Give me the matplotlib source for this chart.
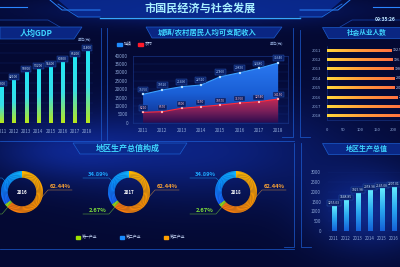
import numpy as np
import matplotlib
matplotlib.use('Agg')
import matplotlib.pyplot as plt
from matplotlib.patches import Polygon, Rectangle, Wedge
from matplotlib.colors import LinearSegmentedColormap

plt.rcParams['font.family'] = ['Noto Sans CJK SC', 'DejaVu Sans']

# ---------------- data ----------------
main_title = "市国民经济与社会发展"
clock_text = "09:35:26"

years = ['2011', '2012', '2013', '2014', '2015', '2016', '2017', '2018']
gdp_per_capita = [35600, 42100, 50300, 53200, 55400, 60300, 65200, 71400]

urban_income = [16950, 19520, 21490, 22510, 27460, 29850, 32480, 35640]
rural_income = [6210, 6570, 8600, 9550, 10570, 11760, 12540, 14150]
income_ticks = [0, 5000, 10000, 15000, 20000, 25000, 30000, 35000, 40000]

employment = [192.5, 196.1, 198.4, 201.2, 201.6, 211.3, 224.8, 228.5]
employment_ticks = [0, 50, 100, 150, 200]

region_years = ['2011', '2012', '2013', '2014', '2015', '2016']
region_gdp = [1255.03, 1548.85, 1925.98, 2058.98, 2145.08, 2207.01]
region_ticks = [0, 500, 1000, 1500, 2000, 2500, 3000]

donut_years = ['2016', '2017', '2018']
industry_names = ['第三产业', '第一产业', '第二产业']   # clockwise from top
industry_share = [62.44, 2.67, 34.89]
legend_names = ['第一产业', '第二产业', '第三产业']

# ---------------- figure ----------------
W, H = 400, 267
fig = plt.figure(figsize=(4, 2.67), dpi=100)

def add_ax(x0, y0, x1, y1):
    a = fig.add_axes([x0 / W, 1 - y1 / H, (x1 - x0) / W, (y1 - y0) / H])
    a.set_facecolor('none')
    return a

# background
bg = fig.add_axes([0, 0, 1, 1])
bg.set_xlim(0, W); bg.set_ylim(H, 0); bg.axis('off')
yy, xx = np.mgrid[0:H, 0:W]
img = np.ones((H, W, 3)) * (np.array([4, 9, 50]) / 255)
def blob(cx, cy, sx, sy, col, amp):
    g = np.exp(-(((xx - cx) / sx) ** 2 + ((yy - cy) / sy) ** 2))
    return g[..., None] * np.array(col) / 255 * amp
img += blob(200, 150, 140, 50, [15, 45, 140], 0.55)
img += blob(370, 210, 60, 40, [20, 60, 170], 0.5)
img += blob(60, 150, 80, 30, [15, 45, 140], 0.45)
img += blob(200, 10, 150, 15, [10, 40, 130], 0.5)
img = np.clip(img, 0, 1)
bg.imshow(img, extent=[0, W, H, 0], aspect='auto', zorder=0)

LINE = '#1d5fd8'
# header decoration
bg.add_patch(Polygon([(58, 0), (342, 0), (322, 17), (78, 17)], closed=True,
                     facecolor='#0a2c95', edgecolor='none', alpha=0.85, zorder=1))
bg.plot([100, 300], [17.5, 17.5], color='#36a6ff', lw=1.0, zorder=2)
bg.plot([50, 62, 100], [0, 10, 10], color='#2a86ff', lw=0.7, zorder=2)
bg.plot([350, 338, 300], [0, 10, 10], color='#2a86ff', lw=0.7, zorder=2)
bg.plot([58, 78, 100], [4, 17, 17], color='#1e6fe8', lw=0.6, zorder=2)
bg.plot([342, 322, 300], [4, 17, 17], color='#1e6fe8', lw=0.6, zorder=2)
bg.plot([0, 27], [7, 7], color='#2a86ff', lw=0.8, zorder=2)
bg.plot([373, 400], [7, 7], color='#2a86ff', lw=0.8, zorder=2)
bg.plot([0, 48, 60], [20, 20, 27], color='#1848b0', lw=0.5, zorder=2)
bg.plot([400, 352, 340], [20, 20, 27], color='#1848b0', lw=0.5, zorder=2)
bg.text(200, 8, main_title, color='#a8f0ff', fontsize=8, fontweight='bold',
        ha='center', va='center', zorder=3)
bg.text(385, 19.5, clock_text, color='#bfe6ff', fontsize=3.6, fontweight='bold',
        ha='center', va='center', zorder=3)

# panel frames
frames = [
    [(101, 28), (101, 140)],
    [(107, 28), (107, 140)],
    [(293, 28), (293, 137), (282, 137)],
    [(300, 30), (300, 137), (310, 137)],
    [(294, 143), (294, 247), (284, 247)],
    [(301, 143), (301, 247), (311, 247)],
    [(0, 141), (294, 141)],
    [(0, 249), (294, 249)],
]
for fr in frames:
    xs, ys = zip(*fr)
    bg.plot(xs, ys, color=LINE, lw=0.6, alpha=0.8, zorder=2)

# panel title boxes
def title_box(pts, text, tx, ty, fs):
    bg.add_patch(Polygon(pts, closed=True, facecolor='#0b2a8c', edgecolor='#1e63d8',
                         lw=0.5, alpha=0.9, zorder=2))
    bg.text(tx, ty, text, color='#3fd6ff', fontsize=fs, fontweight='bold',
            ha='center', va='center', zorder=3)

title_box([(0, 27), (82, 27), (74, 39), (0, 39)], '人均GDP', 36, 33, 5.8)
title_box([(146, 27), (282, 27), (274, 38), (152, 38)], '城镇/农村居民人均可支配收入', 207, 32.5, 5.3)
title_box([(322, 27), (400, 27), (400, 38), (328, 38)], '社会从业人数', 367, 32.5, 4.8)
title_box([(73, 143), (187, 143), (180, 154), (80, 154)], '地区生产总值构成', 128, 148.5, 5.8)
title_box([(322, 143), (400, 143), (400, 154), (328, 154)], '地区生产总值', 367, 148.5, 5.0)

TICK = '#8fa8d8'
grad_v = np.linspace(0, 1, 100).reshape(-1, 1)
grad_h = np.linspace(0, 1, 100).reshape(1, -1)

def style_axis(a, xpad, ypad, fs=3.3):
    a.tick_params(axis='x', length=0, pad=xpad, labelsize=fs, labelcolor=TICK)
    a.tick_params(axis='y', length=0, pad=ypad, labelsize=fs, labelcolor=TICK)
    for s in a.spines.values():
        s.set_visible(False)

def boxed(a, x, y, s, col='#cfe6ff'):
    a.text(x, y, s, fontsize=2.4, color=col, ha='center', va='bottom', zorder=6,
           bbox=dict(boxstyle='square,pad=0.25', facecolor='#0a1f66', edgecolor='#2a5ab8', lw=0.3))

# ---------------- 人均GDP ----------------
ax1 = add_ax(-4.4, 43, 93.2, 123)
cm1 = LinearSegmentedColormap.from_list('g', ['#b8e81a', '#38dfe8', '#22e6f5'])
for i, v in enumerate(gdp_per_capita):
    ax1.imshow(grad_v, extent=[i - 0.13, i + 0.13, 0, v], origin='lower', cmap=cm1,
               aspect='auto', zorder=3)
    boxed(ax1, i, v + 1800, str(v))
ax1.set_xlim(-0.5, 7.5); ax1.set_ylim(0, 80000)
ax1.set_xticks(range(len(years)), years)
ax1.set_yticks(range(0, 80001, 10000), [])
ax1.grid(axis='y', color='#18368a', lw=0.3, alpha=0.6)
style_axis(ax1, 4.3, 2)
bg.text(85, 40, '单位(元)', fontsize=2.6, color=TICK, ha='center', va='center', zorder=3)

# ---------------- 收入 ----------------
ax2 = add_ax(133.4, 55.7, 287.8, 122.7)
x = np.arange(len(years))
cm_u = LinearSegmentedColormap.from_list('u', ['#0c2a86', '#1a5fd6', '#2a78f0'])
cm_r = LinearSegmentedColormap.from_list('r', ['#2a0c4e', '#7a1f5a', '#c02a55'])
pu = ax2.fill_between(x, urban_income, 0, color='none')
im = ax2.imshow(grad_v, extent=[-0.5, 7.5, 0, max(urban_income)], origin='lower', cmap=cm_u,
                aspect='auto', zorder=2)
im.set_clip_path(pu.get_paths()[0], ax2.transData)
pr = ax2.fill_between(x, rural_income, 0, color='none')
im2 = ax2.imshow(grad_v, extent=[-0.5, 7.5, 0, max(rural_income)], origin='lower', cmap=cm_r,
                 aspect='auto', zorder=3)
im2.set_clip_path(pr.get_paths()[0], ax2.transData)
ax2.plot(x, urban_income, color='#3aa0ff', lw=0.8, zorder=4)
ax2.plot(x, rural_income, color='#ff2a3a', lw=0.8, zorder=4)
ax2.plot(x, urban_income, 's', ms=1.6, mfc='white', mec='#3aa0ff', mew=0.3, zorder=5)
ax2.plot(x, rural_income, 's', ms=1.6, mfc='white', mec='#ff2a3a', mew=0.3, zorder=5)
for i in range(len(years)):
    boxed(ax2, i, urban_income[i] + 1600, str(urban_income[i]), '#a8ccff')
    boxed(ax2, i, rural_income[i] + 1400, str(rural_income[i]), '#ffc0d0')
ax2.set_xlim(-0.5, 7.5); ax2.set_ylim(0, 40000)
ax2.set_xticks(x, years)
ax2.set_yticks(income_ticks, [str(t) for t in income_ticks])
ax2.grid(axis='y', color='#18368a', lw=0.3, alpha=0.6)
style_axis(ax2, 3.8, 3.9)
for s in ax2.spines.values():
    s.set_visible(True); s.set_color('#1a3a90'); s.set_linewidth(0.4)
bg.add_patch(Rectangle((117, 42.5), 5, 3, color='#1e8cff', zorder=3))
bg.text(124, 44, '城镇', fontsize=2.8, color='#c8d8f8', va='center', zorder=3)
bg.add_patch(Rectangle((138, 42.5), 5, 3, color='#ff1a2a', zorder=3))
bg.text(145, 44, '农村', fontsize=2.8, color='#c8d8f8', va='center', zorder=3)
bg.text(277, 44, '单位(元)', fontsize=2.6, color=TICK, ha='center', va='center', zorder=3)

# ---------------- 社会从业人数 ----------------
ax3 = add_ax(326.7, 45.6, 410.2, 120.4)
cm3 = LinearSegmentedColormap.from_list('o', ['#ffd63a', '#ff9a3a', '#ff7040'])
for i, v in enumerate(employment):
    ax3.imshow(grad_h, extent=[0, v, i + 0.16, i - 0.16], cmap=cm3, aspect='auto', zorder=3)
    ax3.text(v + 5, i, f'{v}', fontsize=2.6, color='#c8d8f8', va='center', zorder=4)
ax3.set_xlim(0, 250); ax3.set_ylim(len(years) - 0.5, -0.5)
ax3.set_yticks(range(len(years)), years)
ax3.set_xticks(employment_ticks, [str(t) for t in employment_ticks])
style_axis(ax3, 5.5, 4.1, 3.0)
ax3.spines['left'].set_visible(True); ax3.spines['left'].set_color('#1a3a90')
ax3.spines['left'].set_linewidth(0.4)
ax3.spines['bottom'].set_visible(True); ax3.spines['bottom'].set_color('#1a3a90')
ax3.spines['bottom'].set_linewidth(0.4)

# ---------------- 地区生产总值 ----------------
ax4 = add_ax(328, 172, 424, 231)
cm4 = LinearSegmentedColormap.from_list('b', ['#1460d8', '#2aa8f0', '#62eaff'])
for i, v in enumerate(region_gdp):
    ax4.imshow(grad_v, extent=[i - 0.17, i + 0.17, 0, v], origin='lower', cmap=cm4,
               aspect='auto', zorder=3)
    boxed(ax4, i, v + 60, f'{v:.2f}')
ax4.set_xlim(-0.5, 7.5); ax4.set_ylim(0, 3000)
ax4.set_xticks(range(len(region_years)), region_years)
ax4.set_yticks(region_ticks, [str(t) for t in region_ticks])
ax4.grid(axis='y', color='#18368a', lw=0.3, alpha=0.5)
style_axis(ax4, 3.6, 5.0, 3.2)

# ---------------- donuts ----------------
donut_cx = [22, 129, 236]
cy, R = 192, 21
col_orange = LinearSegmentedColormap.from_list('do', ['#ffb800', '#ff9a00', '#ff7a10'])
col_blue = LinearSegmentedColormap.from_list('db', ['#1a64ff', '#0a90ff', '#10b4ff'])
for yr, cx in zip(donut_years, donut_cx):
    ad = add_ax(cx - R, cy - R, cx + R, cy + R)
    ad.set_xlim(-1, 1); ad.set_ylim(-1, 1); ad.axis('off')
    start = 0.0
    for name, share in zip(industry_names, industry_share):
        a0 = 90 - (start + share) * 3.6
        a1 = 90 - start * 3.6
        n = max(2, int(share * 1.2))
        edges = np.linspace(a1, a0, n + 1)
        for k in range(n):
            t = k / max(n - 1, 1)
            if name == '第三产业':
                c = col_orange(t)
            elif name == '第二产业':
                c = col_blue(t)
            else:
                c = '#96dc1a'
            ad.add_patch(Wedge((0, 0), 1.0, edges[k + 1], edges[k] + 0.3, width=0.32,
                               facecolor=c, edgecolor='none'))
        start += share
    ad.text(0, 0, yr, color='white', fontsize=3.2, fontweight='bold', ha='center', va='center')
    # labels with leader lines
    bg.plot([cx + 19, cx + 26, cx + 50], [198, 190, 190], color='#f0a040', lw=0.4, alpha=0.7, zorder=3)
    bg.text(cx + 38, 186, f'{industry_share[0]:.2f}%', color='#f5a035', fontsize=4.2,
            fontweight='bold', ha='center', va='center', zorder=4)
    bg.plot([cx - 46, cx - 20, cx - 15], [178, 178, 183], color='#1ea8ff', lw=0.4, alpha=0.7, zorder=3)
    bg.plot([cx - 46, cx - 20, cx - 14], [214, 214, 207], color='#7ee03a', lw=0.4, alpha=0.7, zorder=3)
    if cx - 31 > 15:   # labels of the leftmost donut lie outside the visible crop
        bg.text(cx - 31, 174, f'{industry_share[2]:.2f}%', color='#1ea8ff', fontsize=4.2,
                fontweight='bold', ha='center', va='center', zorder=4)
        bg.text(cx - 31, 210, f'{industry_share[1]:.2f}%', color='#7ee03a', fontsize=4.2,
                fontweight='bold', ha='center', va='center', zorder=4)

# legend
for (lx, name, c) in zip([76, 120, 164], legend_names, ['#a0e000', '#1a8cff', '#ffa000']):
    bg.add_patch(Rectangle((lx, 235.5), 3.5, 3.5, color=c, zorder=3))
    bg.text(lx + 6, 237.2, name, fontsize=2.8, color='#c8d8f8', va='center', zorder=3)

fig.savefig('out.png', dpi=100)
